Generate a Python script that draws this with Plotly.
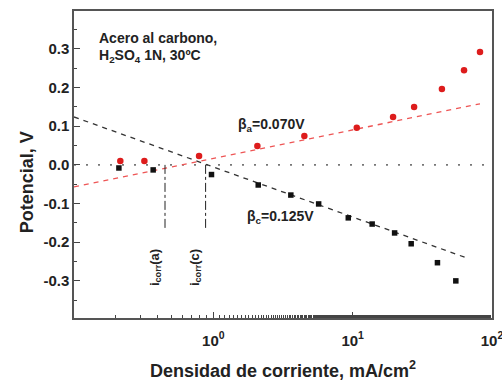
import plotly.graph_objects as go

# Anodic data (red circles)
anodic_i = [0.215, 0.32, 0.79, 2.07, 4.5, 10.7, 19.5, 27.6, 43.7, 63, 82]
anodic_E = [0.010, 0.010, 0.023, 0.049, 0.075, 0.096, 0.124, 0.150, 0.196, 0.245, 0.292]

# Cathodic data (black squares)
cathodic_i = [0.21, 0.37, 0.97, 2.1, 3.6, 5.7, 9.3, 13.8, 20, 26.3, 40.6, 55]
cathodic_E = [-0.008, -0.013, -0.025, -0.052, -0.078, -0.101, -0.137, -0.153, -0.176, -0.204, -0.253, -0.300]

# Tafel fit lines (endpoints)
tafel_a_i = [0.1, 82]
tafel_a_E = [-0.057, 0.158]
tafel_c_i = [0.1, 65]
tafel_c_E = [0.124, -0.240]

# Zero potential reference
zero_i = [0.1, 100]
zero_E = [0.0, 0.0]

# icorr markers
icorr_a = 0.45
icorr_c = 0.88
icorr_E = [0.0, -0.168]

x_tickvals = [1, 10, 100]
x_ticktext = ["10<sup>0</sup>", "10<sup>1</sup>", "10<sup>2</sup>"]
y_tickvals = [-0.3, -0.2, -0.1, 0.0, 0.1, 0.2, 0.3]
y_ticktext = ["-0.3", "-0.2", "-0.1", "0.0", "0.1", "0.2", "0.3"]

FONT = "Liberation Sans, Arial, sans-serif"
INK = "#222222"

fig = go.Figure()

fig.add_trace(go.Scatter(x=zero_i, y=zero_E, mode="lines",
                         line=dict(color="#777777", width=1.6, dash="2px,10px"),
                         hoverinfo="skip", showlegend=False))
fig.add_trace(go.Scatter(x=tafel_c_i, y=tafel_c_E, mode="lines",
                         line=dict(color="#333333", width=1.3, dash="5px,5px"),
                         showlegend=False))
fig.add_trace(go.Scatter(x=tafel_a_i, y=tafel_a_E, mode="lines",
                         line=dict(color="#ee5555", width=1.3, dash="5px,5px"),
                         showlegend=False))
fig.add_trace(go.Scatter(x=[icorr_a, icorr_a], y=icorr_E, mode="lines",
                         line=dict(color=INK, width=1, dash="dashdot"),
                         showlegend=False))
fig.add_trace(go.Scatter(x=[icorr_c, icorr_c], y=icorr_E, mode="lines",
                         line=dict(color=INK, width=1, dash="dashdot"),
                         showlegend=False))
fig.add_trace(go.Scatter(x=anodic_i, y=anodic_E, mode="markers",
                         marker=dict(symbol="circle", size=6.5, color="#dd1c1c"),
                         showlegend=False))
fig.add_trace(go.Scatter(x=cathodic_i, y=cathodic_E, mode="markers",
                         marker=dict(symbol="square", size=5.5, color="#111111"),
                         showlegend=False))

ann_font = dict(family=FONT, size=14, color=INK, weight="bold")
small_font = dict(family=FONT, size=13, color=INK, weight="bold")
title_font = dict(family=FONT, size=18, color=INK, weight="bold")
annotations = [
    dict(x=0.055, y=0.912, xref="paper", yref="paper", xanchor="left", yanchor="middle",
         text="Acero al carbono,", showarrow=False, font=ann_font),
    dict(x=0.055, y=0.855, xref="paper", yref="paper", xanchor="left", yanchor="middle",
         text="H<sub>2</sub>SO<sub>4</sub> 1N, 30ºC", showarrow=False, font=ann_font),
    dict(x=0.165, y=0.103, xref="x", yref="y", xanchor="left", yanchor="middle",
         text="β<sub>a</sub>=0.070V", showarrow=False, font=ann_font),
    dict(x=0.225, y=-0.134, xref="x", yref="y", xanchor="left", yanchor="middle",
         text="β<sub>c</sub>=0.125V", showarrow=False, font=ann_font),
    dict(x=-0.416, y=-0.266, xref="x", yref="y", xanchor="center", yanchor="middle",
         text="i<sub>corr</sub>(a)", textangle=-90, showarrow=False, font=small_font),
    dict(x=-0.129, y=-0.266, xref="x", yref="y", xanchor="center", yanchor="middle",
         text="i<sub>corr</sub>(c)", textangle=-90, showarrow=False, font=small_font),
    dict(x=0.5, y=-0.168, xref="paper", yref="paper", xanchor="center", yanchor="middle",
         text="Densidad de corriente, mA/cm<sup>2</sup>", showarrow=False, font=title_font),
    dict(x=-0.112, y=0.443, xref="paper", yref="paper", xanchor="center", yanchor="middle",
         text="Potencial, V", textangle=-90, showarrow=False, font=title_font),
]

fig.update_layout(
    width=502, height=382,
    margin=dict(l=74, r=10, t=11, b=64),
    paper_bgcolor="white", plot_bgcolor="white",
    font=dict(family=FONT, size=12, color=INK),
    annotations=annotations,
    showlegend=False,
)

fig.update_xaxes(
    type="log", range=[-1, 2], automargin=False,
    tickvals=x_tickvals, ticktext=x_ticktext,
    ticks="inside", ticklen=6, tickwidth=1, tickcolor="#444444",
    minor=dict(ticks="inside", ticklen=3, tickcolor="#444444", showgrid=False),
    showline=True, linecolor="#555555", linewidth=1.5, mirror=True,
    showgrid=False, zeroline=False, ticklabelstandoff=8, ticklabeloverflow="allow",
    tickfont=dict(family=FONT, size=15, color=INK, weight="bold"),
)
fig.update_yaxes(
    range=[-0.396, 0.398], automargin=False,
    tickvals=y_tickvals, ticktext=y_ticktext,
    ticks="inside", ticklen=6, tickwidth=1, tickcolor="#444444",
    minor=dict(ticks="inside", ticklen=3, tickcolor="#444444", dtick=0.05, tick0=0, showgrid=False),
    showline=True, linecolor="#555555", linewidth=1.5, mirror=True,
    showgrid=False, zeroline=False,
    tickfont=dict(family=FONT, size=15, color=INK, weight="bold"),
)

fig.write_html("out.html", config={"displayModeBar": False},
               post_script="document.body.style.margin='0';document.body.style.overflow='hidden';")
